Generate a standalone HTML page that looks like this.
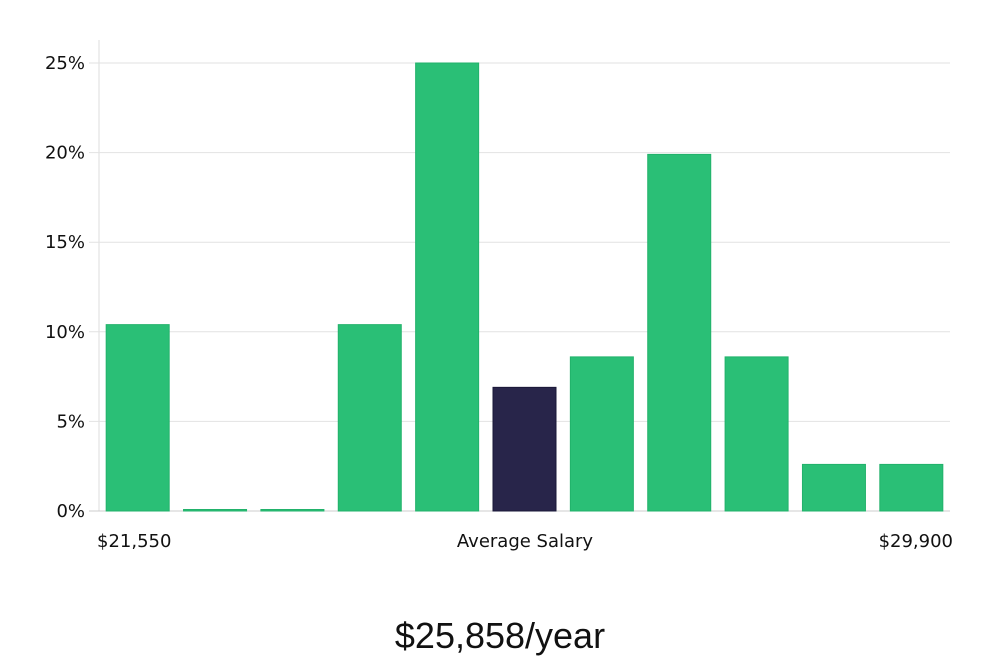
<!DOCTYPE html>
<html><head><meta charset="utf-8"><style>
html,body{margin:0;padding:0;background:#fff;width:1000px;height:660px;overflow:hidden}
svg text{font-family:"DejaVu Sans","Liberation Sans",sans-serif}
</style></head><body>
<svg id="chart" width="1000" height="660" xmlns="http://www.w3.org/2000/svg">
<g id="grid"></g><g id="bars"></g><g id="labels"></g>
<text x="500" y="648" text-anchor="middle" font-size="36" fill="#111" style="font-family:'Liberation Sans Narrow','Liberation Sans',sans-serif">$25,858/year</text>
</svg>
<script>
const categories=["b1","b2","b3","b4","b5","b6","b7","b8","b9","b10","b11"];
const values=[10.4,0,0,10.4,25,6.9,8.6,19.9,8.6,2.6,2.6];
const highlightIndex=5;
const yTicks=[0,5,10,15,20,25];
const yTickLabels=["0%","5%","10%","15%","20%","25%"];
const xLabels=["$21,550","Average Salary","$29,900"];
const NS="http://www.w3.org/2000/svg";
const left=99,right=950,y0=511,pxPer=17.92;
const slot=(right-left)/categories.length,bw=63;
function ys(v){return y0-v*pxPer;}
function xs(i){return left+i*slot+(slot-bw)/2;}
function mk(t,a,p){const e=document.createElementNS(NS,t);for(const k in a)e.setAttribute(k,a[k]);p.appendChild(e);return e;}
const grid=document.getElementById('grid'),bars=document.getElementById('bars'),labels=document.getElementById('labels');
const ax=mk('line',{x1:left,x2:left,y1:40,y2:y0,stroke:'#ddd','stroke-width':1},grid);


yTicks.forEach((t,i)=>{
 const l=mk('line',{x1:89,x2:right,y1:ys(t),y2:ys(t),stroke:t===0?'#ccc':'#e2e2e2','stroke-width':1},grid);
 
 
 const tx=mk('text',{x:85,y:ys(t)+6,'text-anchor':'end','font-size':18,fill:'#111'},labels);
 tx.textContent=yTickLabels[i];
 
 
});
values.forEach((v,i)=>{
 const h=Math.max(v*pxPer,1.5);
 const hl=i===highlightIndex;
 const r=mk('rect',{x:xs(i),y:y0-h,width:bw,height:h,fill:hl?'#28254a':'#2abf76',stroke:hl?'#1a1838':'#22b26b','stroke-width':1},bars);
 
 
});
const lp=[[97,'start'],[525,'middle'],[953,'end']];
xLabels.forEach((s,i)=>{
 const t=mk('text',{x:lp[i][0],y:547,'text-anchor':lp[i][1],'font-size':18,fill:'#111'},labels);
 t.textContent=s;
 
 
});
</script>
</body></html>
